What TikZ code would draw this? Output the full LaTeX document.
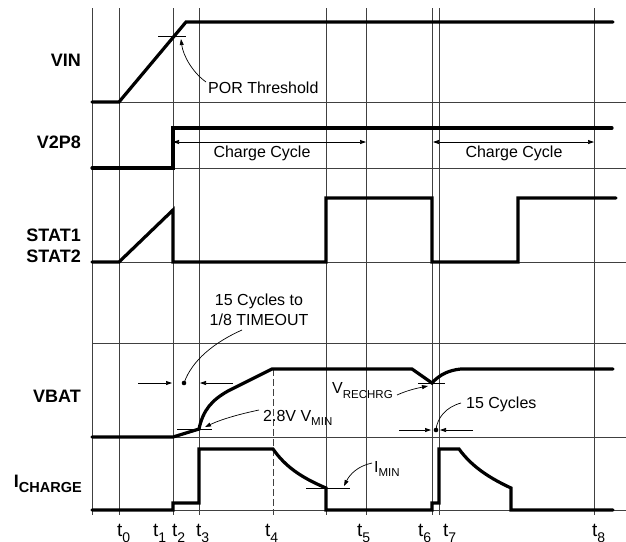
\documentclass[tikz,border=0pt]{standalone}
\usepackage{fontspec}
\setmainfont{Liberation Sans}
\usetikzlibrary{arrows.meta}
\newcommand\lowsub[2]{\raisebox{-#2}{\fontsize{11.5}{11.5}\selectfont #1}}
\newcommand\tsub[1]{\raisebox{-6pt}{\fontsize{14}{14}\selectfont #1}}
\begin{document}
\begin{tikzpicture}[x=1pt,y=-1pt,
  grid/.style={draw=black!75,line width=0.8pt},
  sig/.style={line width=3.2pt,line join=miter,line cap=round},
  thin/.style={line width=0.7pt},
  arr/.style={thin,-{Triangle[length=6pt,width=4pt]}},
  darr/.style={thin,{Triangle[length=6pt,width=4pt]}-{Triangle[length=6pt,width=4pt]}},
  lab/.style={font=\fontsize{18}{18}\selectfont\bfseries,anchor=base east,inner sep=0pt},
  txt/.style={font=\fontsize{16}{16}\selectfont,inner sep=0pt},
  tl/.style={font=\fontsize{19}{19}\selectfont,anchor=base west,inner sep=0pt}]
\useasboundingbox (0,0) rectangle (626,541);
% horizontal grid
\foreach \y in {102,168,262,343,437,510} \draw[grid] (92,\y) -- (626,\y);
% vertical grid
\foreach \x in {92,119,173,199,326,366,432,439,594} \draw[grid] (\x,8) -- (\x,515);
\draw[grid,dash pattern=on 7pt off 3pt] (273,369) -- (273,515);
% signal labels
\node[lab] (vin) at (81,66) {VIN};
\node[lab] (v2p8) at (81,148) {V2P8};
\node[lab] (stat1) at (81,241) {STAT1};
\node[lab] (stat2) at (81,262) {STAT2};
\node[lab] (vbat) at (81,402) {VBAT};
\node[lab] (ichg) at (82,487) {I\raisebox{-5pt}{\fontsize{14.5}{14.5}\selectfont CHARGE}};
% VIN
\draw[sig] (92,102) -- (119,102) -- (186,22) -- (613,22);
\draw[thin] (158,36) -- (186,36);
\node[txt,anchor=base west] (por) at (208,93) {POR Threshold};
\draw[arr] (206,82) .. controls (192,72) and (183,55) .. (181,39);
% V2P8
\draw[sig] (92,168) -- (173,168) -- (173,128) -- (612,128);
\draw[darr] (173,142) -- (366,142);
\node[txt,anchor=base] (cc1) at (262,157) {Charge Cycle};
\draw[darr] (433,142) -- (594,142);
\node[txt,anchor=base] (cc2) at (514,157) {Charge Cycle};
% STAT
\draw[sig] (92,262) -- (119,262) -- (173,210) -- (173,262) -- (326,262) -- (326,198) -- (432,198) -- (432,262) -- (518,262) -- (518,198) -- (616,198);
% timeout annotation
\node[txt,anchor=base] (to1) at (259,305) {15 Cycles to};
\node[txt,anchor=base] (to2) at (259,325) {1/8 TIMEOUT};
\coordinate (tdot) at (184,383);
\fill (tdot) circle (2.3pt);
\draw[thin] (242,330) .. controls (215,342) and (192,360) .. (tdot);
\draw[arr] (138,383) -- (172,383);
\draw[arr] (233,383) -- (200,383);
% VBAT
\draw[sig] (92,437) -- (173,437) -- (199,429) .. controls (203,410) and (212,400) .. (228,391) -- (272,369) -- (412,369) -- (432,383) .. controls (440,374) and (450,370) .. (461,369) -- (613,369);
\draw[thin] (177,429) -- (212,429);
\node[txt,anchor=base west] (vmin) at (263,421) {2.8V V\lowsub{MIN}{4pt}};
\draw[arr] (259,410) .. controls (240,414) and (222,419) .. (205,427);
\draw[thin] (418,383) -- (445,383);
\node[txt,anchor=base west] (vre) at (332,393) {V\lowsub{RECHRG}{5pt}};
\draw[arr] (397,395) .. controls (408,390) and (418,388) .. (428,386);
\node[txt,anchor=base west] (c15) at (466,408) {15 Cycles};
\coordinate (cdot) at (436,430);
\fill (cdot) circle (2.3pt);
\draw[thin] (461,403) .. controls (446,407) and (437,418) .. (cdot);
\draw[arr] (399,430) -- (431,430);
\draw[arr] (473,430) -- (440,430);
% ICHARGE
\draw[sig] (92,510) -- (173,510) -- (173,503) -- (199,503) -- (199,449) -- (273,449) .. controls (285,466) and (300,477) .. (326,488) -- (326,510) -- (432,510) -- (432,503) -- (439,503) -- (439,449) -- (459,449) .. controls (470,464) and (485,476) .. (511,488) -- (511,510) -- (613,510);
\draw[thin] (306,488) -- (350,488);
\node[txt,anchor=base west] (imin) at (374,472) {I\lowsub{MIN}{4pt}};
\draw[arr] (372,463) .. controls (358,466) and (350,474) .. (344,486);
% time labels
\node[tl] (t0) at (117,536) {t\tsub{0}};
\node[tl] (t1) at (153,536) {t\tsub{1}};
\node[tl] (t2) at (172,536) {t\tsub{2}};
\node[tl] (t3) at (196,536) {t\tsub{3}};
\node[tl] (t4) at (265,536) {t\tsub{4}};
\node[tl] (t5) at (357,536) {t\tsub{5}};
\node[tl] (t6) at (418,536) {t\tsub{6}};
\node[tl] (t7) at (443,536) {t\tsub{7}};
\node[tl] (t8) at (592,536) {t\tsub{8}};
\end{tikzpicture}
\end{document}
